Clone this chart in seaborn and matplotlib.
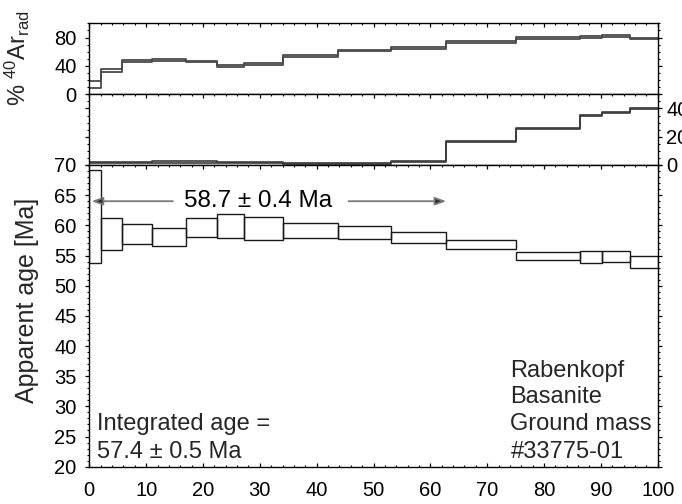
import numpy as np
import pandas as pd
import matplotlib
matplotlib.use("Agg")
import matplotlib.pyplot as plt
import seaborn as sns
from matplotlib.ticker import MultipleLocator, FixedLocator

# ---------------- data ----------------
edges = [0, 2.1, 5.8, 11.1, 17.1, 22.4, 27.3, 34.0, 43.7, 53.0, 62.8, 75.0, 86.3, 90.2, 95.2, 100]
age_hi = [69.1, 61.2, 60.2, 59.5, 61.2, 61.9, 61.3, 60.4, 59.9, 58.9, 57.5, 55.5, 55.8, 55.8, 55.0]
age_lo = [53.7, 55.9, 56.9, 56.5, 58.0, 57.9, 57.6, 57.9, 57.7, 57.0, 56.1, 54.2, 53.7, 54.0, 53.0]
ar_hi = [19.0, 35.5, 48.0, 50.0, 47.5, 41.5, 44.5, 55.0, 63.0, 67.0, 75.0, 81.0, 82.0, 83.0, 80.0]
ar_lo = [8.5, 32.0, 45.0, 47.0, 45.0, 38.5, 41.5, 52.0, 60.5, 64.5, 72.5, 78.5, 80.0, 81.0, 77.5]
mid_hi = [2.3, 2.3, 2.3, 2.8, 2.6, 2.3, 2.3, 1.4, 1.4, 2.8, 16.7, 26.4, 35.7, 37.4, 40.0]
mid_lo = [1.2, 1.2, 1.2, 1.6, 1.5, 1.2, 1.2, 0.8, 0.8, 1.8, 16.0, 25.6, 35.0, 36.8, 39.3]
x_ticks = [0, 10, 20, 30, 40, 50, 60, 70, 80, 90, 100]
age_ticks = [20, 25, 30, 35, 40, 45, 50, 55, 60, 65, 70]
ar_ticks = [0, 40, 80]
mid_ticks = [0, 20, 40]
plateau_text = "58.7 ± 0.4 Ma"
plateau_range = [0.4, 62.8]
integrated_text = ["Integrated age =", "57.4 ± 0.5 Ma"]
sample_text = ["Rabenkopf", "Basanite", "Ground mass", "#33775-01"]

# ---------------- style ----------------
sns.set_theme(style="ticks")
plt.rcParams["font.family"] = ["Liberation Sans", "DejaVu Sans"]
plt.rcParams["mathtext.fontset"] = "custom"
plt.rcParams["mathtext.rm"] = "Liberation Sans"
plt.rcParams["mathtext.it"] = "Liberation Sans"
plt.rcParams["axes.linewidth"] = 1.0
plt.rcParams["axes.edgecolor"] = "black"

W_PX, H_PX = 682, 504
fig = plt.figure(figsize=(W_PX / 100, H_PX / 100), dpi=100)
XL, XR = 89.3, 657.7


def rect(top, bottom):
    return [XL / W_PX, 1 - bottom / H_PX, (XR - XL) / W_PX, (bottom - top) / H_PX]


ax_top = fig.add_axes(rect(23.3, 94.3))
ax_mid = fig.add_axes(rect(94.3, 165.0))
ax_main = fig.add_axes(rect(165.0, 466.7))


def steps(vals):
    return pd.DataFrame({"x": edges, "y": list(vals) + [vals[-1]]})


# top panel: % 40Ar rad
for vals in (ar_hi, ar_lo):
    sns.lineplot(data=steps(vals), x="x", y="y", drawstyle="steps-post", color="#4a4a4a",
                 lw=1.3, ax=ax_top, legend=False)

# middle panel
for vals in (mid_hi, mid_lo):
    sns.lineplot(data=steps(vals), x="x", y="y", drawstyle="steps-post", color="#3a3a3a",
                 lw=1.2, ax=ax_mid, legend=False)

# main panel: age spectrum boxes
ax_main.bar(edges[:-1], np.subtract(age_hi, age_lo), width=np.diff(edges),
            bottom=age_lo, align="edge", fill=False, edgecolor="#1a1a1a", linewidth=1.0)

# plateau arrows and label
y_arrow = 64.0
arrow_kw = dict(arrowstyle="-|>,head_length=0.55,head_width=0.2", ec="#7a7a7a", fc="#2a2a2a",
                lw=1.3, shrinkA=0, shrinkB=0)
ax_main.annotate("", xy=(plateau_range[0], y_arrow), xytext=(14.7, y_arrow), arrowprops=arrow_kw)
ax_main.annotate("", xy=(plateau_range[1], y_arrow), xytext=(45.6, y_arrow), arrowprops=arrow_kw)
ax_main.text(29.7, y_arrow, plateau_text, ha="center", va="center", fontsize=17.5, color="black")

ax_main.text(1.3, 27.1, integrated_text[0], ha="left", va="center", fontsize=17)
ax_main.text(1.3, 22.5, integrated_text[1], ha="left", va="center", fontsize=17)
for txt, yy in zip(sample_text, [35.9, 31.5, 27.1, 22.5]):
    ax_main.text(74.1, yy, txt, ha="left", va="center", fontsize=17)

# ---------------- axes ----------------
for ax in (ax_top, ax_mid, ax_main):
    ax.set_xlim(0, 100)
    ax.xaxis.set_major_locator(FixedLocator(x_ticks))
    ax.xaxis.set_minor_locator(MultipleLocator(2))
    ax.tick_params(axis="x", which="both", direction="in", top=True,
                   bottom=(ax is ax_main), labelbottom=(ax is ax_main),
                   labelsize=14.5, pad=10, colors="black")
    ax.tick_params(axis="x", which="major", length=2.9, width=0.9)
    ax.tick_params(axis="x", which="minor", length=1.6, width=0.8)
    ax.tick_params(axis="y", which="both", direction="out", left=True, right=True,
                   labelsize=14.5, pad=6, colors="black")
    ax.tick_params(axis="y", which="major", length=3.2, width=0.9)
    ax.tick_params(axis="y", which="minor", length=1.6, width=0.8)
    ax.set_xlabel("")
    ax.set_ylabel("")
    for s in ax.spines.values():
        s.set_visible(True)
        s.set_color("black")
        s.set_linewidth(1.0)

ax_top.set_ylim(0, 100)
ax_top.yaxis.set_major_locator(FixedLocator(ar_ticks))
ax_top.yaxis.set_minor_locator(MultipleLocator(10))

ax_mid.set_ylim(0, 50)
ax_mid.yaxis.set_major_locator(FixedLocator(mid_ticks))
ax_mid.yaxis.set_minor_locator(MultipleLocator(5))
ax_mid.tick_params(axis="y", labelleft=False, labelright=True, pad=3)

ax_main.set_ylim(20, 70)
ax_main.yaxis.set_major_locator(FixedLocator(age_ticks))
ax_main.yaxis.set_minor_locator(MultipleLocator(1))

fig.text(17.0 / W_PX, 1 - 58.5 / H_PX, r"% $^{40}$Ar$_{\mathrm{rad}}$", rotation=90,
         ha="center", va="center", fontsize=17)
fig.text(27.0 / W_PX, 1 - 300 / H_PX, "Apparent age [Ma]", rotation=90,
         ha="center", va="center", fontsize=18)

fig.savefig("out.png", dpi=100)
